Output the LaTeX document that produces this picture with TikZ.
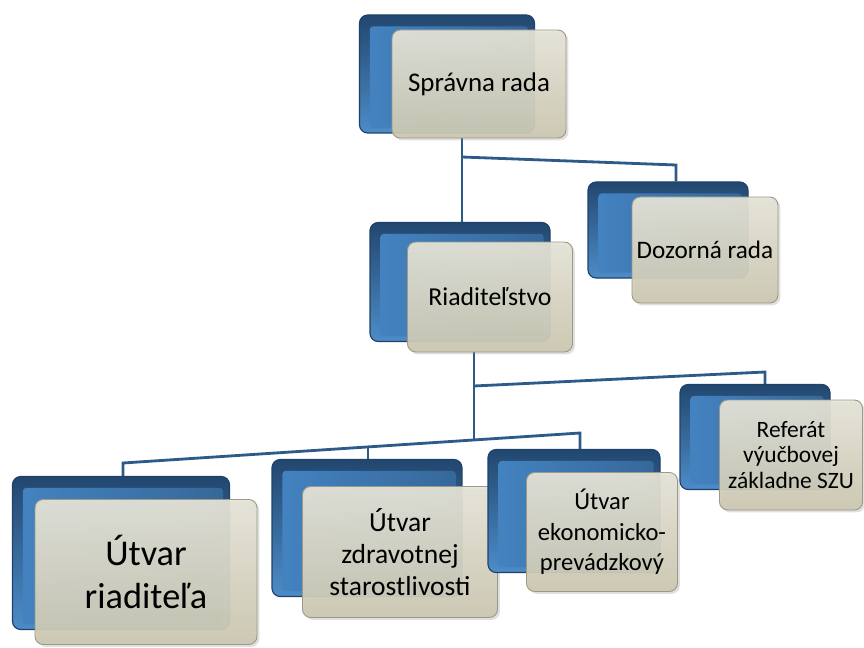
\documentclass[tikz,border=0pt]{standalone}
\usepackage{fontspec}
\setmainfont{Carlito}
\usetikzlibrary{backgrounds, shadows, calc}
\definecolor{linkblue}{HTML}{2C5A89}
\definecolor{backtop}{HTML}{22476F}
\definecolor{backbot}{HTML}{4D8CC8}
\definecolor{backedge}{HTML}{1E426B}
\definecolor{backin}{HTML}{4382C0}
\definecolor{fronttop}{HTML}{E6E4D8}
\definecolor{frontbot}{HTML}{CBC7B1}
\definecolor{frontedge}{HTML}{9C9987}
\tikzset{
    backbox/.style={rectangle, rounded corners=7pt, draw=backedge, line width=1pt, top color=backtop, bottom color=backbot, inner sep=0pt},
    backinner/.style={rectangle, rounded corners=3pt, left color=backin, right color=backin!80!black, inner sep=0pt},
    frontbox/.style={rectangle, rounded corners=7pt, draw=frontedge, line width=0.8pt, top color=fronttop, bottom color=frontbot, fill opacity=0.93, text opacity=1, align=center, inner sep=2pt, drop shadow={opacity=0.25, shadow xshift=2pt, shadow yshift=-2pt}},
    link/.style={draw=linkblue, line width=2.4pt},
}
\begin{document}
\begin{tikzpicture}[x=0.03cm, y=-0.03cm]
    \useasboundingbox (0,0) rectangle (864,648);
    % boxes: back (blue) and front (beige) with the text
    \foreach \n/\bx/\by/\bw/\bh/\fx/\fy/\fw/\fh/\fs/\bs/\t in {
        spr/447/74/175/118/479/84/174/108/23/27/{Správna rada},
        doz/668/230/160/96/705/250/146/106/21.5/25/{Dozorná rada},
        ria/460/282/180/119/490/297/165/110/22/26/{Riaditeľstvo},
        urd/121/553/217/153/146/572/222/145/31/36/{Útvar\\riaditeľa},
        uzs/367/528/190/137/400/552/195/131/23.5/27.5/{Útvar\\zdravotnej\\starostlivosti},
        uep/574/511/172/123/602/532/151/119/21/26/{Útvar\\ekonomicko-\\prevádzkový},
        ref/755/437/150/105/791/455/143/110/20/22/{Referát\\výučbovej\\základne SZU}} {
        \node[backbox, minimum width=\bw*0.03cm, minimum height=\bh*0.03cm] (\n B) at (\bx,\by) {};
        \node[backinner, minimum width=\bw*0.03cm-0.5cm, minimum height=\bh*0.03cm-0.5cm] at (\bx+2,\by+3) {};
        \node[frontbox, minimum width=\fw*0.03cm, minimum height=\fh*0.03cm, font=\fontsize{\fs}{\bs}\selectfont] (\n F) at (\fx,\fy) {\t};
    }
    % connectors (slightly tilted, as in the drawing)
    \coordinate (sj) at (462,157);
    \coordinate (sd) at (676,165);
    \coordinate (rj) at (474,386);
    \coordinate (rr) at (765,372);
    \coordinate (ul) at (123,463);
    \coordinate (ur) at (580,433);
    \coordinate (rk) at ($(ul)!0.768!(ur)$);
    \coordinate (um) at ($(ul)!0.536!(ur)$);
    \begin{scope}[on background layer]
        \draw[link] (sprF.south -| sj) -- (riaB.north -| sj);
        \draw[link] (sj) -- (sd) -- (sd |- dozB.north);
        \draw[link] (riaF.south -| rk) -- (rk);
        \draw[link] (rj) -- (rr) -- (rr |- refB.north);
        \draw[link] (ul |- urdB.north) -- (ul) -- (ur) -- (ur |- uepB.north);
        \draw[link] (um) -- (um |- uzsB.north);
    \end{scope}
\end{tikzpicture}
\end{document}
